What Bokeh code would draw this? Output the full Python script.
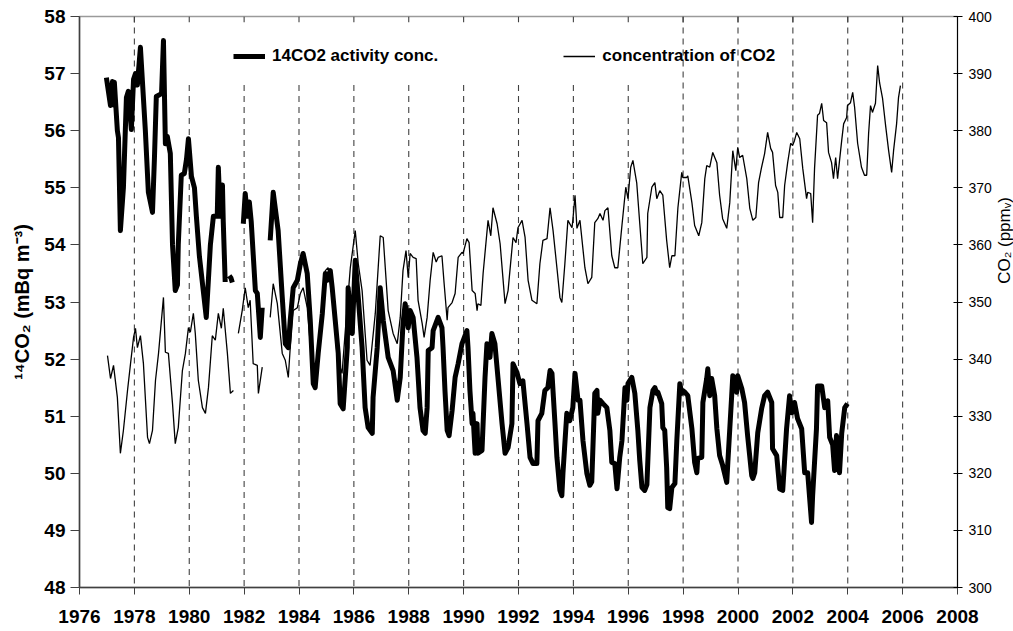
import math
from bokeh.plotting import figure
from bokeh.layouts import row
from bokeh.models import Range1d, LinearAxis, FixedTicker, Legend, LegendItem, Label
from bokeh.embed import file_html
from bokeh.resources import INLINE

# ---------------- data ----------------
year_ticks = list(range(1976, 2009, 2))
left_ticks = list(range(48, 59, 1))
right_ticks = list(range(300, 401, 10))
grid_years_full = [1978, 1998, 2000, 2002, 2004, 2006]
grid_years_short = [1980, 1982, 1984, 1986, 1988, 1990, 1992, 1994, 1996]

# 14CO2 activity concentration (mBq m-3), segments
c14_seg1 = [
    (1976.98, 56.93), (1977.13, 56.44), (1977.20, 56.86), (1977.24, 56.45), (1977.27, 56.85),
    (1977.38, 56.00), (1977.42, 55.88), (1977.49, 54.25), (1977.60, 55.00), (1977.71, 56.58),
    (1977.78, 56.69), (1977.89, 56.02), (1977.97, 56.90), (1978.04, 57.00), (1978.11, 56.80),
    (1978.22, 57.46), (1978.40, 56.00), (1978.51, 54.92), (1978.66, 54.57), (1978.73, 55.50),
    (1978.80, 56.60), (1978.99, 56.65), (1979.06, 57.58), (1979.13, 55.77), (1979.20, 55.90),
    (1979.31, 55.60), (1979.39, 54.00), (1979.49, 53.20), (1979.57, 53.30), (1979.60, 54.00),
    (1979.71, 55.22), (1979.82, 55.25), (1979.90, 55.50), (1979.97, 55.86), (1980.08, 55.20),
    (1980.19, 55.00), (1980.26, 54.50), (1980.37, 53.80), (1980.51, 53.20), (1980.62, 52.73),
    (1980.77, 54.00), (1980.88, 54.50), (1981.02, 54.50), (1981.06, 55.36), (1981.13, 54.50),
    (1981.21, 55.05), (1981.24, 54.40), (1981.31, 53.35),
]
c14_seg2 = [(1981.46, 53.46), (1981.52, 53.42), (1981.57, 53.34)]
c14_seg3 = [
    (1981.97, 54.37), (1982.04, 54.90), (1982.12, 54.50), (1982.19, 54.75), (1982.26, 54.40),
    (1982.41, 53.20), (1982.48, 53.15), (1982.59, 52.38), (1982.66, 52.90),
]
c14_seg4 = [
    (1982.95, 54.08), (1983.06, 54.92), (1983.24, 54.25), (1983.39, 53.08), (1983.50, 52.27),
    (1983.61, 52.20), (1983.68, 52.68), (1983.79, 53.25), (1983.94, 53.38), (1984.05, 53.67),
    (1984.15, 53.85), (1984.30, 53.50), (1984.41, 52.68), (1984.52, 51.57), (1984.59, 51.50),
    (1984.70, 52.10), (1984.85, 52.80), (1984.96, 53.50), (1985.03, 53.38), (1985.14, 53.55),
    (1985.21, 53.25), (1985.32, 52.68), (1985.43, 52.10), (1985.50, 51.22), (1985.61, 51.13),
    (1985.76, 52.20), (1985.79, 53.25), (1985.94, 52.45), (1986.05, 53.73), (1986.16, 53.08),
    (1986.30, 52.20), (1986.41, 51.15), (1986.52, 50.80), (1986.67, 50.70), (1986.70, 51.33),
    (1986.85, 52.20), (1986.96, 53.25), (1987.07, 52.68), (1987.25, 52.03), (1987.43, 51.80),
    (1987.58, 51.28), (1987.69, 51.68), (1987.79, 52.62), (1987.87, 52.97), (1987.98, 52.55),
    (1988.05, 52.85), (1988.16, 52.73), (1988.30, 52.03), (1988.41, 51.15), (1988.52, 50.75),
    (1988.60, 50.70), (1988.67, 51.15), (1988.71, 52.15), (1988.85, 52.20), (1988.89, 52.50),
    (1989.03, 52.68), (1989.07, 52.73), (1989.21, 52.55), (1989.25, 52.20), (1989.32, 51.45),
    (1989.40, 50.75), (1989.47, 50.66), (1989.58, 51.10), (1989.69, 51.68), (1989.80, 51.92),
    (1989.94, 52.27), (1989.98, 52.32), (1990.12, 52.50), (1990.16, 52.20), (1990.23, 51.45),
    (1990.31, 50.87), (1990.34, 51.05), (1990.42, 50.35), (1990.49, 50.87), (1990.52, 50.35),
    (1990.67, 50.40), (1990.78, 51.68), (1990.85, 52.27), (1990.96, 52.03), (1991.03, 52.45),
    (1991.14, 52.27), (1991.25, 51.68), (1991.40, 50.87), (1991.51, 50.35), (1991.62, 50.45),
    (1991.76, 50.87), (1991.80, 51.92), (1991.94, 51.77), (1992.05, 51.57), (1992.16, 51.62),
    (1992.31, 50.87), (1992.42, 50.28), (1992.53, 50.17), (1992.67, 50.17), (1992.71, 50.92),
    (1992.85, 51.05), (1992.96, 51.45), (1993.07, 51.50), (1993.15, 51.80), (1993.22, 51.75),
    (1993.33, 50.87), (1993.40, 50.28), (1993.51, 49.70), (1993.58, 49.61), (1993.62, 50.00),
    (1993.76, 51.05), (1993.87, 50.92), (1993.98, 51.15), (1994.06, 51.75), (1994.13, 51.45),
    (1994.17, 51.28), (1994.24, 51.28), (1994.35, 50.57), (1994.49, 50.00), (1994.60, 49.79),
    (1994.67, 49.85), (1994.78, 51.40), (1994.86, 51.45), (1994.89, 51.05), (1994.97, 51.28),
    (1995.08, 51.22), (1995.22, 51.15), (1995.33, 50.75), (1995.40, 50.19), (1995.51, 50.17),
    (1995.59, 49.73), (1995.69, 50.28), (1995.77, 50.57), (1995.88, 51.50), (1995.95, 51.28),
    (1995.99, 51.57), (1996.13, 51.68), (1996.24, 51.40), (1996.35, 50.75), (1996.42, 50.22),
    (1996.50, 49.75), (1996.60, 49.70), (1996.68, 49.80), (1996.79, 51.15), (1996.90, 51.45),
    (1996.97, 51.50), (1997.04, 51.40), (1997.08, 51.42), (1997.22, 51.22), (1997.26, 50.80),
    (1997.33, 50.75), (1997.40, 50.10), (1997.44, 49.40), (1997.51, 49.38), (1997.59, 49.75),
    (1997.70, 49.82), (1997.77, 50.57), (1997.88, 51.57), (1997.95, 51.40), (1997.99, 51.45),
    (1998.06, 51.42), (1998.17, 51.36), (1998.32, 50.78), (1998.42, 50.19), (1998.50, 50.01),
    (1998.53, 50.26), (1998.68, 50.28), (1998.72, 51.24), (1998.86, 51.66), (1998.90, 51.83),
    (1998.97, 51.36), (1999.04, 51.66), (1999.15, 51.36), (1999.23, 50.78), (1999.33, 50.31),
    (1999.44, 50.14), (1999.59, 49.84), (1999.63, 50.19), (1999.77, 51.36), (1999.81, 51.71),
    (1999.95, 51.42), (1999.99, 51.71), (2000.14, 51.48), (2000.24, 51.24), (2000.35, 50.66),
    (2000.50, 49.96), (2000.54, 49.91), (2000.61, 50.01), (2000.72, 50.71), (2000.86, 51.13),
    (2000.97, 51.36), (2001.08, 51.42), (2001.23, 51.24), (2001.26, 50.43), (2001.41, 50.31),
    (2001.52, 49.73), (2001.63, 49.70), (2001.77, 50.78), (2001.88, 51.36), (2001.96, 51.06),
    (2002.06, 51.24), (2002.17, 50.96), (2002.32, 50.78), (2002.43, 50.01), (2002.54, 50.01),
    (2002.68, 49.14), (2002.72, 49.61), (2002.86, 50.78), (2002.90, 51.53), (2003.05, 51.53),
    (2003.16, 51.15), (2003.27, 51.27), (2003.34, 50.63), (2003.45, 50.50), (2003.52, 50.05),
    (2003.59, 50.66), (2003.70, 50.01), (2003.78, 50.70), (2003.89, 51.15), (2003.99, 51.22),
]

# CO2 concentration (ppmv), segments
co2_seg1 = [
    (1977.02, 340.6), (1977.13, 336.6), (1977.24, 338.9), (1977.38, 333.3), (1977.49, 323.5),
    (1977.60, 327.5), (1977.75, 334.5), (1977.86, 339.2), (1977.97, 343.8), (1978.04, 345.4),
    (1978.11, 342.0), (1978.22, 344.1), (1978.33, 339.2), (1978.48, 326.3), (1978.55, 325.2),
    (1978.66, 327.5), (1978.77, 336.3), (1978.88, 341.0), (1979.06, 350.8), (1979.13, 341.2),
    (1979.24, 341.0), (1979.39, 332.2), (1979.49, 325.2), (1979.60, 328.0), (1979.75, 338.0),
    (1979.86, 341.0), (1979.97, 345.5), (1980.04, 344.7), (1980.15, 348.0), (1980.22, 344.5),
    (1980.33, 336.3), (1980.48, 331.5), (1980.59, 330.5), (1980.70, 335.0), (1980.84, 344.1),
    (1980.95, 343.3), (1981.06, 348.0), (1981.17, 345.4), (1981.24, 348.9), (1981.39, 341.0),
    (1981.50, 334.0), (1981.61, 334.5),
]
co2_seg2 = [
    (1981.79, 344.5), (1981.93, 348.5), (1982.04, 352.5), (1982.15, 349.0), (1982.22, 350.3),
    (1982.33, 339.2), (1982.48, 338.9), (1982.52, 334.0), (1982.66, 338.6),
]
co2_seg3 = [
    (1982.95, 347.3), (1983.06, 353.2), (1983.21, 349.7), (1983.39, 341.0), (1983.50, 339.8),
    (1983.61, 336.8), (1983.68, 342.0), (1983.79, 348.5), (1983.94, 349.0), (1984.05, 351.5),
    (1984.15, 352.5), (1984.30, 349.0), (1984.48, 338.6), (1984.59, 336.3), (1984.85, 348.0),
    (1984.96, 355.5), (1985.06, 356.0), (1985.21, 352.5), (1985.39, 340.3), (1985.57, 337.5),
    (1985.68, 344.5), (1985.87, 356.0), (1986.05, 362.5), (1986.16, 356.7), (1986.30, 352.0),
    (1986.48, 339.8), (1986.59, 338.9), (1986.78, 348.0), (1986.96, 361.6), (1987.07, 361.3),
    (1987.25, 348.5), (1987.43, 344.5), (1987.58, 342.7), (1987.69, 347.3), (1987.79, 355.5),
    (1987.90, 359.0), (1987.98, 354.3), (1988.05, 358.5), (1988.16, 357.8), (1988.27, 357.6),
    (1988.34, 350.3), (1988.49, 346.2), (1988.56, 343.8), (1988.67, 347.3), (1988.78, 353.8),
    (1988.89, 358.7), (1989.00, 357.0), (1989.07, 357.8), (1989.21, 358.1), (1989.29, 353.2),
    (1989.40, 346.8), (1989.43, 349.0), (1989.58, 349.9), (1989.69, 351.5), (1989.80, 357.8),
    (1989.94, 358.7), (1989.98, 358.5), (1990.12, 361.1), (1990.20, 360.4), (1990.31, 352.0),
    (1990.42, 351.5), (1990.49, 348.5), (1990.52, 349.7), (1990.63, 349.4), (1990.71, 355.0),
    (1990.89, 364.3), (1990.99, 361.6), (1991.07, 366.5), (1991.22, 363.7), (1991.33, 360.2),
    (1991.51, 349.7), (1991.62, 352.0), (1991.80, 361.3), (1991.91, 360.4), (1991.98, 363.0),
    (1992.13, 364.3), (1992.24, 361.3), (1992.35, 353.8), (1992.49, 350.3), (1992.67, 349.7),
    (1992.78, 356.7), (1992.89, 360.8), (1993.04, 361.1), (1993.15, 366.5), (1993.26, 362.5),
    (1993.40, 356.0), (1993.51, 350.8), (1993.58, 349.9), (1993.69, 356.7), (1993.80, 364.3),
    (1993.95, 363.0), (1993.98, 364.3), (1994.06, 368.7), (1994.13, 362.9), (1994.24, 364.3),
    (1994.42, 356.0), (1994.53, 353.2), (1994.67, 354.3), (1994.78, 363.9), (1994.89, 364.6),
    (1994.97, 365.5), (1995.08, 364.3), (1995.15, 366.0), (1995.26, 366.5), (1995.40, 358.1),
    (1995.51, 356.0), (1995.62, 356.0), (1995.77, 363.4), (1995.91, 370.1), (1995.99, 368.1),
    (1996.09, 373.6), (1996.17, 374.8), (1996.31, 370.8), (1996.42, 363.7), (1996.53, 356.7),
    (1996.68, 357.8), (1996.71, 365.5), (1996.86, 370.1), (1996.97, 370.9), (1997.04, 368.1),
    (1997.15, 369.5), (1997.26, 368.7), (1997.40, 360.8), (1997.51, 356.0), (1997.59, 358.1),
    (1997.70, 358.1), (1997.81, 366.5), (1997.95, 372.7), (1997.99, 371.8), (1998.13, 371.8),
    (1998.17, 372.1), (1998.32, 367.4), (1998.42, 363.4), (1998.57, 361.6), (1998.68, 363.9),
    (1998.79, 371.6), (1998.86, 373.9), (1998.97, 373.6), (1999.08, 376.2), (1999.23, 374.4),
    (1999.33, 368.7), (1999.44, 364.6), (1999.59, 362.9), (1999.70, 367.4), (1999.81, 376.5),
    (1999.92, 373.0), (1999.99, 377.1), (2000.06, 375.3), (2000.17, 375.7), (2000.32, 371.6),
    (2000.43, 366.4), (2000.54, 364.3), (2000.65, 364.8), (2000.75, 370.9), (2000.86, 373.6),
    (2000.97, 376.0), (2001.08, 379.7), (2001.19, 376.9), (2001.26, 376.2), (2001.37, 370.4),
    (2001.45, 369.2), (2001.52, 364.8), (2001.63, 364.8), (2001.70, 370.4), (2001.81, 374.4),
    (2001.92, 377.8), (2001.99, 377.4), (2002.06, 378.3), (2002.14, 379.7), (2002.25, 378.6),
    (2002.36, 373.4), (2002.50, 368.1), (2002.54, 369.2), (2002.65, 369.0), (2002.72, 363.9),
    (2002.79, 373.4), (2002.90, 382.7), (2002.97, 383.0), (2003.05, 384.8), (2003.12, 381.8),
    (2003.23, 381.4), (2003.30, 376.2), (2003.41, 374.4), (2003.48, 371.6), (2003.56, 375.3),
    (2003.63, 371.6), (2003.78, 378.3), (2003.85, 381.2), (2003.96, 382.3), (2003.99, 384.4),
    (2004.10, 384.9), (2004.18, 386.7), (2004.25, 384.1), (2004.36, 377.8), (2004.50, 373.6),
    (2004.61, 372.2), (2004.69, 372.2), (2004.76, 379.5), (2004.83, 384.4), (2004.90, 383.2),
    (2005.01, 384.8), (2005.09, 391.4), (2005.16, 388.4), (2005.27, 385.6), (2005.38, 380.9),
    (2005.49, 376.5), (2005.60, 372.7), (2005.67, 376.5), (2005.78, 381.2), (2005.85, 385.8),
    (2005.92, 387.9),
]


def join(*segs):
    xs, ys = [], []
    for i, s in enumerate(segs):
        if i:
            xs.append(math.nan)
            ys.append(math.nan)
        xs += [a for a, _ in s]
        ys += [b for _, b in s]
    return xs, ys


c14_x, c14_y = join(c14_seg1, c14_seg2, c14_seg3, c14_seg4)
co2_x, co2_y = join(co2_seg1, co2_seg2, co2_seg3)

FONT = "Liberation Sans"
W, H = 994, 631

p = figure(width=W, height=H, x_range=Range1d(1976, 2008), y_range=Range1d(48, 58),
           output_backend="svg", toolbar_location=None,
           min_border_left=79, min_border_right=36, min_border_top=16, min_border_bottom=44)
p.extra_y_ranges = {"co2": Range1d(300, 400)}
p.xgrid.visible = False
p.ygrid.visible = False
p.outline_line_color = "#9a9a9a"
p.outline_line_width = 1.5
p.background_fill_color = "white"
p.border_fill_color = "white"

# dashed vertical reference lines
p.segment(x0=grid_years_full, x1=grid_years_full, y0=[58] * len(grid_years_full),
          y1=[48] * len(grid_years_full), line_color="#404040", line_width=1.1, line_dash="6 5")
p.segment(x0=grid_years_short, x1=grid_years_short, y0=[56.8] * len(grid_years_short),
          y1=[48] * len(grid_years_short), line_color="#404040", line_width=1.1, line_dash="6 5")
p.segment(x0=year_ticks[1:-1], x1=year_ticks[1:-1], y0=[58] * (len(year_ticks) - 2),
          y1=[57.9] * (len(year_ticks) - 2), line_color="#404040", line_width=1.1)

r_co2 = p.line(co2_x, co2_y, y_range_name="co2", line_color="black", line_width=1.3)
r_c14 = p.line(c14_x, c14_y, line_color="black", line_width=5, line_join="round")

# axes
xa = p.xaxis[0]
xa.ticker = FixedTicker(ticks=year_ticks)
xa.axis_line_color = "#404040"
xa.axis_line_width = 1.5
xa.major_tick_line_color = "#404040"
xa.major_tick_out = 7
xa.major_tick_in = 0
xa.minor_tick_line_color = None
xa.major_label_text_font = FONT
xa.major_label_text_font_style = "bold"
xa.major_label_text_font_size = "19px"
xa.major_label_text_color = "black"
xa.major_label_standoff = 15

ya = p.yaxis[0]
ya.ticker = FixedTicker(ticks=left_ticks)
ya.axis_line_color = "#404040"
ya.axis_line_width = 1.5
ya.major_tick_line_color = "#404040"
ya.major_tick_out = 9
ya.major_tick_in = 0
ya.minor_tick_line_color = None
ya.major_label_text_font = FONT
ya.major_label_text_font_style = "bold"
ya.major_label_text_font_size = "19px"
ya.major_label_text_color = "black"
ya.major_label_standoff = 5
ya.axis_label = "¹⁴CO₂ (mBq m⁻³)"
ya.axis_label_text_font = FONT
ya.axis_label_text_font_style = "bold"
ya.axis_label_text_font_size = "20px"
ya.axis_label_text_color = "black"
ya.axis_label_standoff = 8

ra = LinearAxis(y_range_name="co2", ticker=FixedTicker(ticks=right_ticks))
ra.axis_line_color = "black"
ra.axis_line_width = 1
ra.major_tick_line_color = "black"
ra.major_tick_out = 5
ra.major_tick_in = 4
ra.minor_tick_line_color = None
ra.major_label_text_font = FONT
ra.major_label_text_font_size = "14px"
ra.major_label_text_color = "black"
ra.major_label_standoff = 6
p.add_layout(ra, "right")

legend = Legend(items=[LegendItem(label="14CO2 activity conc.", renderers=[r_c14]),
                       LegendItem(label="concentration of CO2", renderers=[r_co2])],
                orientation="horizontal", location=(154, 521),
                border_line_alpha=0, background_fill_alpha=0,
                label_text_font=FONT, label_text_font_style="bold", label_text_font_size="17px",
                label_text_color="black", glyph_width=32, glyph_height=20, label_standoff=7,
                spacing=125, padding=0, margin=0)
p.add_layout(legend, "center")

# narrow strip holding the right-hand axis title (reads bottom-to-top)
t = figure(width=1013 - W, height=H, output_backend="svg", toolbar_location=None,
           x_axis_location=None, y_axis_location=None,
           x_range=Range1d(0, 1), y_range=Range1d(0, 1),
           min_border_left=0, min_border_right=0, min_border_top=0, min_border_bottom=0)
t.xgrid.visible = False
t.ygrid.visible = False
t.outline_line_color = None
t.border_fill_color = "white"
t.add_layout(Label(x=(1013 - W) / 2, y=H - 284, x_units="screen", y_units="screen",
                   text="CO₂ (ppmᵥ)", angle=math.pi / 2, text_align="center",
                   text_baseline="middle", text_font=FONT, text_font_size="17px",
                   text_color="black"))

layout = row(p, t, spacing=0)
open("out.html", "w").write(file_html(layout, INLINE))
